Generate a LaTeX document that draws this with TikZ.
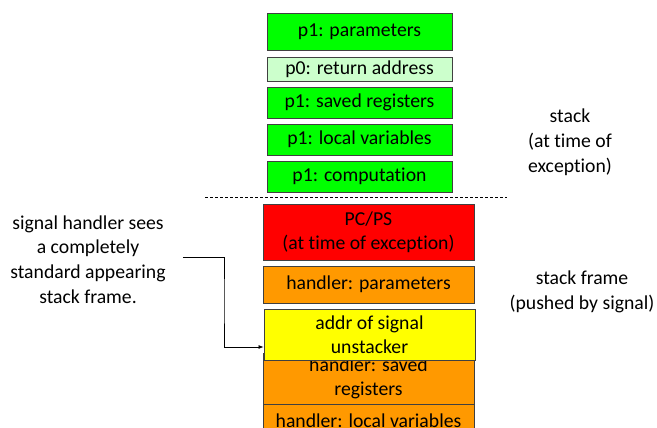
\documentclass[tikz,border=0pt]{standalone}
\usepackage{fontspec}
\setmainfont{Carlito}[Ligatures=NoCommon]
\usetikzlibrary{arrows.meta,calc}
\definecolor{bgreen}{HTML}{00FF00}
\definecolor{pgreen}{HTML}{CCFFCC}
\definecolor{bred}{HTML}{FF0000}
\definecolor{borange}{HTML}{FF9900}
\definecolor{byellow}{HTML}{FFFF00}
\definecolor{edge}{HTML}{404040}
\tikzset{
  frame/.style={draw=edge, line width=0.9pt, inner sep=0pt, align=center,
    font=\fontsize{19.7}{24.5}\selectfont},
  label/.style={align=center, inner sep=0pt, font=\fontsize{19.7}{24.8}\selectfont},
  pointer/.style={draw=black, line width=0.7pt, -{Latex[length=5pt,width=4pt]}},
}
\begin{document}
\begin{tikzpicture}[x=1pt,y=-1pt]
  \useasboundingbox (0,0) rectangle (657,428);
  \clip (0,0) rectangle (657,428);
  % process p1 stack
  \node[frame, fill=bgreen, minimum width=185pt, minimum height=37pt] (par) at (359.5,31.5) {p1: parameters};
  \node[frame, fill=pgreen, minimum width=185pt, minimum height=24pt] (ret) at (359.5,69) {p0: return address};
  \node[frame, fill=bgreen, minimum width=185pt, minimum height=31pt] (reg) at (359.5,102.5) {p1: saved registers};
  \node[frame, fill=bgreen, minimum width=185pt, minimum height=31pt] (loc) at (359.5,139.5) {p1: local variables};
  \node[frame, fill=bgreen, minimum width=185pt, minimum height=31pt] (cmp) at (359.5,176.5) {p1: computation};
  % boundary between the stacks
  \coordinate (dl) at (205,197);
  \coordinate (dr) at (507,197);
  \draw[black, line width=0.6pt, dash pattern=on 3pt off 2pt] (dl) -- (dr);
  % frame pushed by the signal
  \node[frame, fill=bred, minimum width=211pt, minimum height=56pt] (pcps) at (368.5,232) {PC/PS\\(at time of exception)};
  \node[frame, fill=borange, minimum width=211pt, minimum height=37pt] (hpar) at (368.5,284.5) {handler: parameters};
  \node[frame, fill=borange, minimum width=211pt, minimum height=51pt] (hreg) at (368.5,378.5) {handler: saved\\registers};
  \node[frame, fill=borange, minimum width=211pt, minimum height=34pt] (hloc) at (368.5,421) {handler: local variables};
  \node[frame, fill=byellow, minimum width=211pt, minimum height=51pt] (addr) at (369.5,334.5) {addr of signal\\unstacker};
  % side labels
  \node[label] (stk) at (570,142) {stack\\(at time of\\exception)};
  \node[label] (sfr) at (582,291.5) {stack frame\\(pushed by signal)};
  \node[label] (sig) at (88,259.5) {signal handler sees\\a completely\\standard appearing\\stack frame.};
  % pointer from the note to the return slot
  \coordinate (bend) at (224,300);
  \draw[pointer] ([xshift=17pt,yshift=2.5pt]sig.east) -| (bend) |- ([yshift=-12.5pt]addr.west);
\end{tikzpicture}
\end{document}
